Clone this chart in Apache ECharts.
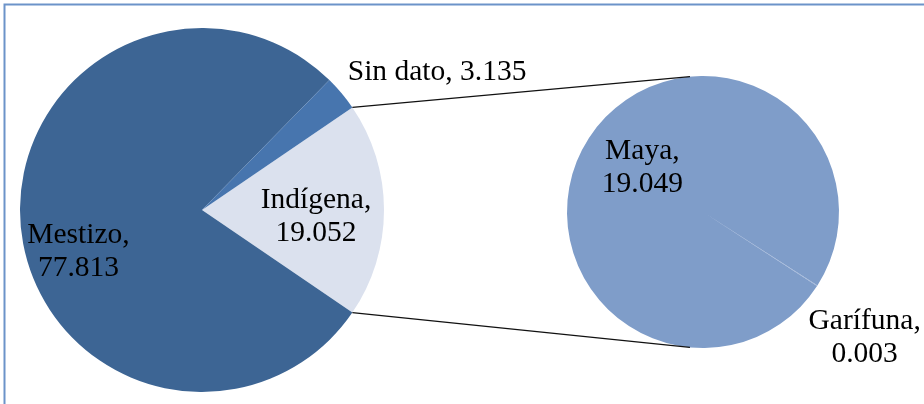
<!DOCTYPE html>
<html>
<head>
<meta charset="utf-8">
<script src="https://cdn.jsdelivr.net/npm/echarts@6/dist/echarts.min.js"></script>
<style>
  html, body { margin: 0; padding: 0; background: #fff; }
  #chart { width: 924px; height: 404px; }
</style>
</head>
<body>
<div id="chart"></div>
<script>
// datos del grafico
var categories = ['Mestizo', 'Sin dato', 'Indígena']
var values = [77.813, 3.135, 19.052]
var subCategories = ['Maya', 'Garífuna']
var subValues = [19.049, 0.003]

var mainColors = { 'Mestizo': '#3D6594', 'Sin dato': '#4775AE', 'Indígena': '#DBE1EE' }
var subColor = '#7F9DC9'

// layout
var C1 = [202, 210], R1 = 182
var C2 = [703, 212], R2 = 136

var total = values.reduce(function (a, b) { return a + b }, 0)
var idxInd = categories.indexOf('Indígena')
var halfAng = values[idxInd] / total * 180 // Indígena centrada a la derecha

// orden horario: Indígena, Mestizo, Sin dato
var order = ['Indígena', 'Mestizo', 'Sin dato']
var mainData = order.map(function (n) {
  return { name: n, value: values[categories.indexOf(n)], itemStyle: { color: mainColors[n] } }
})
var subData = subCategories.map(function (n, i) {
  return { name: n, value: subValues[i], itemStyle: { color: i === 0 ? subColor : '#90A9D2' } }
})

// desplazamientos de etiquetas (estilo "mejor ajuste" de Excel)
var mainOffsets = { 'Indígena': [20, 7], 'Mestizo': [-30, 33], 'Sin dato': [163, -77] }
var subOffsets = { 'Maya': [-1, -6], 'Garífuna': [102, 87] }

function fmt (p) {
  var sep = p.name === 'Sin dato' ? ', ' : ',\n'
  return p.name + sep + p.value.toFixed(3)
}

var labelStyle = {
  show: true,
  position: 'inside',
  formatter: fmt,
  color: '#000',
  fontFamily: 'Liberation Serif',
  fontSize: 29.5,
  lineHeight: 33
}

// lineas de conexion entre las dos tortas
var a1 = halfAng * Math.PI / 180
var a2 = 95.5 * Math.PI / 180
var lines = [1, -1].map(function (s) {
  return {
    type: 'line',
    shape: {
      x1: C1[0] + R1 * Math.cos(a1), y1: C1[1] - s * R1 * Math.sin(a1),
      x2: C2[0] + R2 * Math.cos(a2), y2: C2[1] - s * R2 * Math.sin(a2)
    },
    style: { stroke: '#111', lineWidth: 1.2 },
    z: 10
  }
})

var chart = echarts.init(document.getElementById('chart'))
chart.setOption({
  animation: false,
  graphic: [
    {
      type: 'rect',
      shape: { x: 4.5, y: 4.5, width: 960, height: 440 },
      style: { fill: 'none', stroke: '#6C93C9', lineWidth: 2 }
    }
  ].concat(lines),
  series: [
    {
      type: 'pie',
      center: C1,
      radius: R1,
      startAngle: halfAng,
      clockwise: true,
      avoidLabelOverlap: false,
      emphasis: { disabled: true },
      label: labelStyle,
      labelLine: { show: false },
      labelLayout: function (p) {
        var o = mainOffsets[mainData[p.dataIndex].name]
        return { dx: o[0], dy: o[1] }
      },
      data: mainData
    },
    {
      type: 'pie',
      center: C2,
      radius: R2,
      startAngle: 327,
      minAngle: 0.3,
      clockwise: true,
      avoidLabelOverlap: false,
      emphasis: { disabled: true },
      label: labelStyle,
      labelLine: { show: false },
      labelLayout: function (p) {
        var o = subOffsets[subData[p.dataIndex].name]
        return { dx: o[0], dy: o[1] }
      },
      data: subData
    }
  ]
})
</script>
</body>
</html>
